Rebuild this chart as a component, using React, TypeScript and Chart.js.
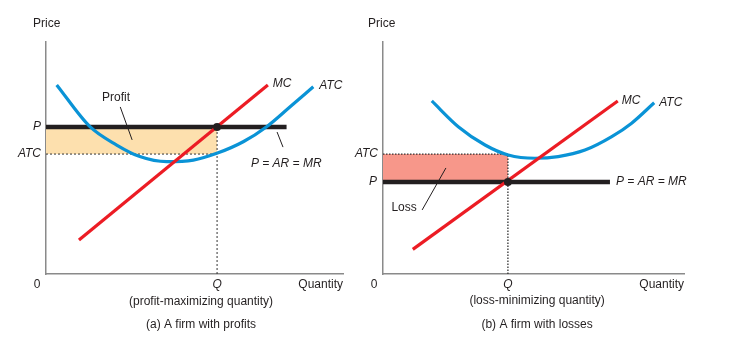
import React, { useEffect, useRef } from "react";
import { Chart, registerables } from "chart.js";

Chart.register(...registerables);

// ---------- Panel (a): firm with profits ----------
const A_Q = 57.6;
const A_P = 63.4;
const A_ATC = 51.7;
const A_PLINE_END = 81;
const A_MC_X = [11.1, 74.7];
const A_MC_Y = [14.7, 81.5];
const A_ATC_X = [3.6, 14.8, 23.8, 31.6, 40.6, 49.6, 57.5, 66.4, 74.3, 82.2, 90.0];
const A_ATC_Y = [81.5, 63.5, 55.6, 50.6, 48.4, 49.1, 52.0, 57.0, 63.5, 72.1, 80.7];

// ---------- Panel (b): firm with losses ----------
const B_Q = 41.5;
const B_P = 39.7;
const B_ATC = 51.7;
const B_PLINE_END = 75.4;
const B_MC_X = [9.9, 78.0];
const B_MC_Y = [10.6, 74.6];
const B_ATC_X = [16.2, 25.0, 33.9, 41.6, 50.5, 58.2, 67.1, 76.0, 82.6, 90.1];
const B_ATC_Y = [74.6, 63.5, 55.6, 51.3, 49.9, 50.6, 53.4, 59.2, 65.0, 73.8];

const FONT = '"Liberation Sans", Arial, Helvetica, sans-serif';
const TEXT = "#231f20";

type Label = {
  text: string;
  x: number;
  y: number;
  dx?: number;
  dy?: number;
  align?: CanvasTextAlign;
  italic?: boolean;
};

type Leader = [number, number, number, number];

const pts = (xs: number[], ys: number[]) => xs.map((x, i) => ({ x, y: ys[i] }));

const annotPlugin = {
  id: "annot",
  afterDraw(chart: any) {
    const opts = chart.options.plugins.annot || {};
    const labels: Label[] = opts.labels || [];
    const leaders: Leader[] = opts.leaders || [];
    const xs = chart.scales.x;
    const ys = chart.scales.y;
    const ctx = chart.ctx;
    ctx.save();
    ctx.strokeStyle = TEXT;
    ctx.lineWidth = 1;
    leaders.forEach(([x1, y1, x2, y2]) => {
      ctx.beginPath();
      ctx.moveTo(xs.getPixelForValue(x1), ys.getPixelForValue(y1));
      ctx.lineTo(xs.getPixelForValue(x2), ys.getPixelForValue(y2));
      ctx.stroke();
    });
    ctx.fillStyle = TEXT;
    ctx.textBaseline = "middle";
    labels.forEach((l) => {
      ctx.font = (l.italic ? "italic " : "") + "12px " + FONT;
      ctx.textAlign = l.align || "center";
      ctx.fillText(
        l.text,
        xs.getPixelForValue(l.x) + (l.dx || 0),
        ys.getPixelForValue(l.y) + (l.dy || 0)
      );
    });
    ctx.restore();
  },
};

function buildConfig(p: {
  Q: number;
  P: number;
  ATC: number;
  pEnd: number;
  mcX: number[];
  mcY: number[];
  atcX: number[];
  atcY: number[];
  fillColor: string;
  qTop: number;
  dash: number[];
  dashWidth: number;
  padding: any;
  labels: Label[];
  leaders: Leader[];
}) {
  const line = { pointRadius: 0, fill: false, tension: 0 };
  return {
    type: "line" as const,
    data: {
      datasets: [
        {
          ...line,
          data: [{ x: p.Q, y: p.P }],
          showLine: false,
          pointRadius: 4,
          pointBackgroundColor: "#231f20",
          pointBorderWidth: 0,
          order: 0,
        },
        {
          ...line,
          data: pts(p.mcX, p.mcY),
          borderColor: "#ec1c24",
          borderWidth: 3.2,
          order: 1,
        },
        {
          ...line,
          data: pts(p.atcX, p.atcY),
          borderColor: "#0a93d6",
          borderWidth: 3.2,
          cubicInterpolationMode: "monotone",
          order: 2,
        },
        {
          ...line,
          data: [
            { x: 0, y: p.P },
            { x: p.pEnd, y: p.P },
          ],
          borderColor: "#231f20",
          borderWidth: 4.5,
          order: 3,
        },
        {
          ...line,
          data: [
            { x: p.Q, y: 0 },
            { x: p.Q, y: p.qTop },
          ],
          borderColor: "#333",
          borderWidth: p.dashWidth,
          borderDash: p.dash,
          order: 4,
        },
        {
          ...line,
          data: [
            { x: 0, y: p.ATC },
            { x: p.Q, y: p.ATC },
          ],
          borderColor: "#333",
          borderWidth: p.dashWidth,
          borderDash: p.dash,
          order: 4,
        },
        {
          ...line,
          data: [
            { x: 0, y: p.P },
            { x: p.Q, y: p.P },
          ],
          borderWidth: 0,
          borderColor: "rgba(0,0,0,0)",
          backgroundColor: p.fillColor,
          fill: { value: p.ATC },
          order: 5,
        },
      ],
    },
    options: {
      animation: false,
      responsive: false,
      layout: { padding: p.padding },
      scales: {
        x: {
          type: "linear",
          min: 0,
          max: 100,
          ticks: { display: false },
          grid: { display: false, drawTicks: false },
          border: { display: true, color: "#8a8a8a", width: 1.5 },
        },
        y: {
          type: "linear",
          min: 0,
          max: 100,
          ticks: { display: false },
          grid: { display: false, drawTicks: false },
          border: { display: true, color: "#8a8a8a", width: 1.5 },
        },
      },
      plugins: {
        legend: { display: false },
        tooltip: { enabled: false },
        annot: { labels: p.labels, leaders: p.leaders },
      },
    },
    plugins: [annotPlugin],
  };
}

const labelsA: Label[] = [
  { text: "Price", x: 0, y: 100, dx: -13, dy: -18, align: "left" },
  { text: "P", x: 0, y: A_P, dx: -5, align: "right", italic: true },
  { text: "ATC", x: 0, y: A_ATC, dx: -5, align: "right", italic: true },
  { text: "0", x: 0, y: 0, dx: -9, dy: 11 },
  { text: "Q", x: A_Q, y: 0, dy: 11, italic: true },
  { text: "Quantity", x: 100, y: 0, dy: 11, align: "right" },
  { text: "(profit-maximizing quantity)", x: 52.2, y: 0, dy: 28 },
  { text: "(a) A firm with profits", x: 52.2, y: 0, dy: 51 },
  { text: "MC", x: A_MC_X[1], y: A_MC_Y[1], dx: 5, dy: -1, align: "left", italic: true },
  { text: "ATC", x: A_ATC_X[A_ATC_X.length - 1], y: A_ATC_Y[A_ATC_Y.length - 1], dx: 6, dy: -1, align: "left", italic: true },
  { text: "Profit", x: 23.6, y: 75.9 },
  { text: "P = AR = MR", x: 69, y: 47.4, align: "left", italic: true },
];
const leadersA: Leader[] = [
  [25.0, 72.0, 29.0, 57.8],
  [77.8, 61.2, 79.8, 54.7],
];

const labelsB: Label[] = [
  { text: "Price", x: 0, y: 100, dx: -15, dy: -18, align: "left" },
  { text: "ATC", x: 0, y: B_ATC, dx: -5, align: "right", italic: true },
  { text: "P", x: 0, y: B_P, dx: -6, align: "right", italic: true },
  { text: "0", x: 0, y: 0, dx: -9, dy: 11 },
  { text: "Q", x: B_Q, y: 0, dy: 11, italic: true },
  { text: "Quantity", x: 100, y: 0, dy: 11, align: "right" },
  { text: "(loss-minimizing quantity)", x: 51.2, y: 0, dy: 27 },
  { text: "(b) A firm with losses", x: 51.2, y: 0, dy: 51 },
  { text: "MC", x: B_MC_X[1], y: B_MC_Y[1], dx: 4, align: "left", italic: true },
  { text: "ATC", x: B_ATC_X[B_ATC_X.length - 1], y: B_ATC_Y[B_ATC_Y.length - 1], dx: 5, align: "left", italic: true },
  { text: "P = AR = MR", x: B_PLINE_END, y: B_P, dx: 6, align: "left", italic: true },
  { text: "Loss", x: 7.0, y: 28.4 },
];
const leadersB: Leader[] = [[13.0, 27.6, 20.9, 45.7]];

export default function App() {
  const refA = useRef<HTMLCanvasElement>(null);
  const refB = useRef<HTMLCanvasElement>(null);

  useEffect(() => {
    const cA = new Chart(
      refA.current as HTMLCanvasElement,
      buildConfig({
        Q: A_Q,
        P: A_P,
        ATC: A_ATC,
        pEnd: A_PLINE_END,
        mcX: A_MC_X,
        mcY: A_MC_Y,
        atcX: A_ATC_X,
        atcY: A_ATC_Y,
        fillColor: "#fde0ae",
        qTop: A_P,
        dash: [2, 2],
        dashWidth: 1,
        padding: { left: 46, right: 24, top: 42, bottom: 74 },
        labels: labelsA,
        leaders: leadersA,
      }) as any
    );
    const cB = new Chart(
      refB.current as HTMLCanvasElement,
      buildConfig({
        Q: B_Q,
        P: B_P,
        ATC: B_ATC,
        pEnd: B_PLINE_END,
        mcX: B_MC_X,
        mcY: B_MC_Y,
        atcX: B_ATC_X,
        atcY: B_ATC_Y,
        fillColor: "#f7978a",
        qTop: B_ATC,
        dash: [1.5, 1.5],
        dashWidth: 1.3,
        padding: { left: 49, right: 50, top: 42, bottom: 74 },
        labels: labelsB,
        leaders: leadersB,
      }) as any
    );
    return () => {
      cA.destroy();
      cB.destroy();
    };
  }, []);

  return (
    <div
      style={{
        position: "fixed",
        left: 0,
        top: 0,
        width: 734,
        height: 348,
        background: "#fff",
        overflow: "hidden",
      }}
    >
      <canvas
        ref={refA}
        width={367}
        height={348}
        style={{ position: "absolute", left: 0, top: 0 }}
      />
      <canvas
        ref={refB}
        width={400}
        height={348}
        style={{ position: "absolute", left: 334, top: 0 }}
      />
    </div>
  );
}
